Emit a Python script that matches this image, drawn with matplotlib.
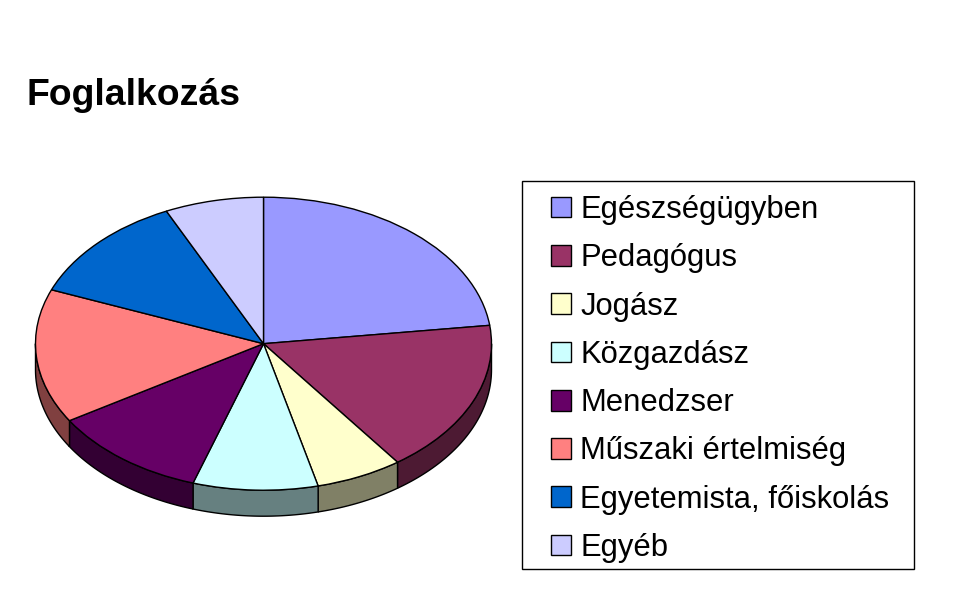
import numpy as np
import matplotlib
matplotlib.use('Agg')
import matplotlib.pyplot as plt
from matplotlib.patches import Rectangle

labels = ['Egészségügyben', 'Pedagógus', 'Jogász', 'Közgazdász', 'Menedzser',
          'Műszaki értelmiség', 'Egyetemista, főiskolás', 'Egyéb']
values = [23, 17, 6.15, 8.85, 11.2, 14.8, 12, 7]
colors = ['#9999ff', '#993366', '#ffffcc', '#ccffff', '#660066', '#ff8080', '#0066cc', '#ccccff']
side_colors = ['#4d4d80', '#4d1a33', '#808066', '#668080', '#330033', '#804040', '#003366', '#666680']

plt.rcParams['font.family'] = ['Liberation Sans', 'DejaVu Sans']
W, H = 971, 604
fig = plt.figure(figsize=(W / 100, H / 100), dpi=100, facecolor='white')

# pie centre 263,344 - radii 228 x 147 px
cx, cy, rx, ry = 263.5, 343.7, 228, 146.5
depth = 26 / ry
ax = fig.add_axes([(cx - 1.15 * rx) / W, 1 - (cy + 1.3 * ry) / H, 2.3 * rx / W, 2.6 * ry / H])

wedges, _ = ax.pie(values, colors=colors, startangle=90, counterclock=False,
                   wedgeprops={'edgecolor': 'black', 'linewidth': 1.0, 'zorder': 3})
ax.set_aspect('auto')
ax.set_xlim(-1.15, 1.15)
ax.set_ylim(-1.3, 1.3)

# side wall of the disc, only the part facing the viewer
edges = np.cumsum([0] + values) / sum(values) * 2 * np.pi
for i in range(len(values)):
    a = max(edges[i], np.pi / 2)
    b = min(edges[i + 1], 3 * np.pi / 2)
    if b <= a:
        continue
    t = np.linspace(a, b, 60)
    x = np.sin(t)
    y = np.cos(t)
    ax.fill(np.r_[x, x[::-1]], np.r_[y, y[::-1] - depth], facecolor=side_colors[i],
            edgecolor='black', linewidth=1.0, zorder=2)

fig.text(26 / W, 1 - 105 / H, 'Foglalkozás', fontsize=26.9, fontweight='bold', color='black')

# legend box drawn apart, its padding is wider than tall
fig.add_artist(Rectangle((521.5 / W, 1 - 568.5 / H), 392 / W, 388 / H, transform=fig.transFigure,
                         facecolor='white', edgecolor='black', linewidth=1.0))
leg = fig.legend(wedges, labels, loc='upper left', bbox_to_anchor=(551 / W, 1 - 195 / H),
                 bbox_transform=fig.transFigure, fontsize=22.3, frameon=False,
                 borderaxespad=0, borderpad=0,
                 handlelength=0.65, handleheight=0.65, handletextpad=0.29, labelspacing=0.59)
leg.set_zorder(5)

fig.savefig('out.png', dpi=100, facecolor='white')
